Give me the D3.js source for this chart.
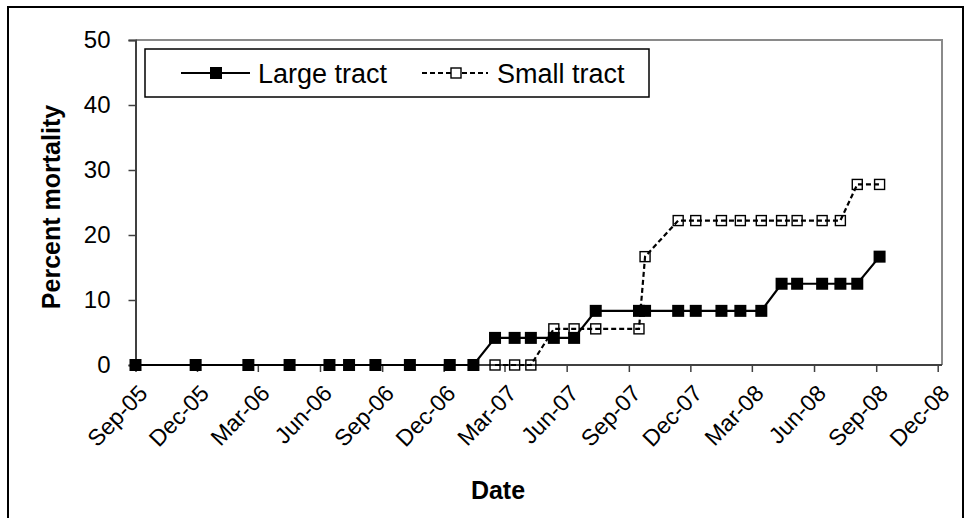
<!DOCTYPE html>
<html>
<head>
<meta charset="utf-8">
<script src="https://cdn.jsdelivr.net/npm/d3@7"></script>
<style>
  html, body { margin: 0; padding: 0; background: #fff; }
  svg { display: block; }
  text { font-family: "Liberation Sans", Arial, sans-serif; fill: #000; }
</style>
</head>
<body>
<svg id="chart" width="969" height="518"></svg>
<script>
// ---- data ----
const largeDates = ["2005-09-01","2005-11-29","2006-02-15","2006-04-17","2006-06-15","2006-07-14","2006-08-22","2006-10-12","2006-12-10","2007-01-14",
  "2007-02-15","2007-03-16","2007-04-09","2007-05-13","2007-06-12","2007-07-14","2007-09-16","2007-09-25","2007-11-13","2007-12-09",
  "2008-01-16","2008-02-13","2008-03-15","2008-04-14","2008-05-07","2008-06-13","2008-07-10","2008-08-04","2008-09-06"];
const largeValues = [0,0,0,0,0,0,0,0,0,0,
  4.17,4.17,4.17,4.17,4.17,8.33,8.33,8.33,8.33,8.33,
  8.33,8.33,8.33,12.5,12.5,12.5,12.5,12.5,16.67];
const smallDates = ["2007-02-15","2007-03-16","2007-04-09","2007-05-13","2007-06-12","2007-07-14","2007-09-16","2007-09-25","2007-11-13","2007-12-09",
  "2008-01-16","2008-02-13","2008-03-15","2008-04-14","2008-05-07","2008-06-13","2008-07-10","2008-08-04","2008-09-06"];
const smallValues = [0,0,0,5.56,5.56,5.56,5.56,16.67,22.22,22.22,
  22.22,22.22,22.22,22.22,22.22,22.22,22.22,27.78,27.78];
const yTicks = [0,10,20,30,40,50];
const xTickLabels = ["Sep-05","Dec-05","Mar-06","Jun-06","Sep-06","Dec-06","Mar-07","Jun-07","Sep-07","Dec-07","Mar-08","Jun-08","Sep-08","Dec-08"];
const xTickStart = "2005-09-01", xTickEnd = "2008-12-01";
const seriesNames = ["Large tract","Small tract"];
const yTitle = "Percent mortality", xTitle = "Date";

// ---- drawing ----
const svg = d3.select("#chart");
const parse = d3.utcParse("%Y-%m-%d");

const x = d3.scaleUtc().domain([parse(xTickStart), parse(xTickEnd)]).range([135.5, 937.7]);
const y = d3.scaleLinear().domain([0, 50]).range([365, 40]);
const plotRight = 942;

// outer chart border
svg.append("rect").attr("x", 8).attr("y", 7).attr("width", 955).attr("height", 530)
  .attr("fill", "none").attr("stroke", "#000").attr("stroke-width", 2);

// plot area border (top & right gray)
svg.append("path").attr("d", `M${x.range()[0]},${y(50)}H${plotRight}V${y(0)}`)
  .attr("fill", "none").attr("stroke", "#8a8a8a").attr("stroke-width", 2);

// y axis
const yAxis = svg.append("g").attr("transform", `translate(${x.range()[0]},0)`)
  .call(d3.axisLeft(y).tickValues(yTicks).tickSize(7).tickPadding(18).tickFormat(d3.format("d")));
yAxis.select(".domain").attr("stroke", "#404040").attr("stroke-width", 2);
yAxis.selectAll(".tick line").attr("stroke", "#404040").attr("stroke-width", 1.5);
yAxis.selectAll(".tick text").attr("font-size", 24).attr("font-family", "Liberation Sans, Arial, sans-serif").attr("fill", "#000");

// x axis: quarterly ticks from Sep-05
const xTicks = d3.utcMonth.range(parse(xTickStart), d3.utcDay.offset(parse(xTickEnd), 1)).filter((d, i) => i % 3 === 0);
const xAxis = svg.append("g").attr("transform", `translate(0,${y(0)})`)
  .call(d3.axisBottom(x).tickValues(xTicks).tickSize(7).tickSizeOuter(0).tickFormat((d, i) => xTickLabels[i]));
xAxis.select(".domain").attr("d", `M${x.range()[0]},0H${plotRight}`).attr("stroke", "#404040").attr("stroke-width", 2);
xAxis.selectAll(".tick line").attr("stroke", "#404040").attr("stroke-width", 1.5);
xAxis.selectAll(".tick text")
  .attr("font-size", 23).attr("font-family", "Liberation Sans, Arial, sans-serif").attr("fill", "#000")
  .attr("text-anchor", "end").attr("y", 0).attr("dy", "0.35em")
  .attr("transform", "translate(7,24) rotate(-46)");

// series
const large = largeDates.map((d, i) => ({ date: parse(d), value: largeValues[i] }));
const small = smallDates.map((d, i) => ({ date: parse(d), value: smallValues[i] }));
const line = d3.line().x(d => x(d.date)).y(d => y(d.value));

svg.append("path").datum(large).attr("d", line).attr("fill", "none")
  .attr("stroke", "#000").attr("stroke-width", 2.2);
svg.append("g").selectAll("rect").data(large).join("rect")
  .attr("x", d => x(d.date) - 6).attr("y", d => y(d.value) - 6)
  .attr("width", 12).attr("height", 12).attr("fill", "#000");

svg.append("path").datum(small).attr("d", line).attr("fill", "none")
  .attr("stroke", "#000").attr("stroke-width", 2.2).attr("stroke-dasharray", "5,3");
svg.append("g").selectAll("rect").data(small).join("rect")
  .attr("x", d => x(d.date) - 5).attr("y", d => y(d.value) - 5)
  .attr("width", 10).attr("height", 10).attr("fill", "none")
  .attr("stroke", "#000").attr("stroke-width", 1.4);

// legend
const lg = svg.append("g");
lg.append("rect").attr("x", 145).attr("y", 49).attr("width", 504).attr("height", 48)
  .attr("fill", "#fff").attr("stroke", "#000").attr("stroke-width", 1.5);
lg.append("line").attr("x1", 181).attr("x2", 250).attr("y1", 73).attr("y2", 73)
  .attr("stroke", "#000").attr("stroke-width", 2.2);
lg.append("rect").attr("x", 210).attr("y", 67).attr("width", 12).attr("height", 12).attr("fill", "#000");
lg.append("text").attr("x", 258).attr("y", 83).attr("font-size", 27).text(seriesNames[0]);
lg.append("line").attr("x1", 422).attr("x2", 488).attr("y1", 73).attr("y2", 73)
  .attr("stroke", "#000").attr("stroke-width", 2).attr("stroke-dasharray", "5,3");
lg.append("rect").attr("x", 451).attr("y", 68).attr("width", 10).attr("height", 10)
  .attr("fill", "#fff").attr("stroke", "#000").attr("stroke-width", 1.4);
lg.append("text").attr("x", 497).attr("y", 83).attr("font-size", 27).text(seriesNames[1]);

// axis titles
svg.append("text").attr("transform", "translate(60,207) rotate(-90)")
  .attr("text-anchor", "middle").attr("font-weight", "bold").attr("font-size", 25).text(yTitle);
svg.append("text").attr("x", 498).attr("y", 499)
  .attr("text-anchor", "middle").attr("font-weight", "bold").attr("font-size", 25).text(xTitle);
</script>
</body>
</html>
